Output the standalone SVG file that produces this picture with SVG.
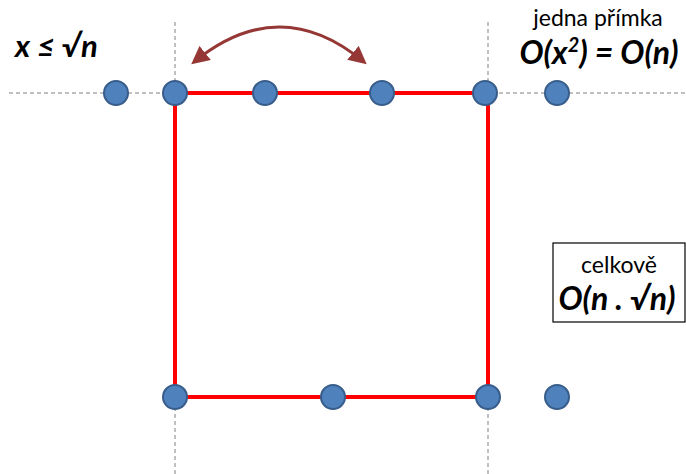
<svg xmlns="http://www.w3.org/2000/svg" width="686" height="474" viewBox="0 0 686 474">
<defs>
<style>
.guide{stroke:#808080;stroke-width:1;stroke-dasharray:4,3;fill:none}
.red{stroke:#ff0000;stroke-width:4;fill:none}
.dot{fill:#4f81bd;stroke:#385d8a;stroke-width:2}
.t{font-family:Lato,"Liberation Sans",sans-serif;fill:#000}
.bi{font-weight:bold;font-style:italic}
</style>
<marker id="ah" viewBox="0 0 10 10" refX="8" refY="5" markerWidth="6" markerHeight="6" orient="auto-start-reverse" markerUnits="strokeWidth">
<path d="M0,0 L10,5 L0,10 z" fill="#953735"/>
</marker>
</defs>
<rect width="686" height="474" fill="#fff"/>
<g id="guides">
<line class="guide" x1="9" y1="93" x2="686" y2="93"/>
<line class="guide" x1="175" y1="22" x2="175" y2="474"/>
<line class="guide" x1="488" y1="22" x2="488" y2="474"/>
</g>
<g id="connectors">
<polyline class="red" points="175,93 485,93 488,93 488,397 175,397 175,93"/>
<path d="M194,62 Q280,-8 364,62" stroke="#953735" stroke-width="3" fill="none" marker-start="url(#ah)" marker-end="url(#ah)"/>
</g>
<g id="dots">
<circle class="dot" cx="116" cy="93" r="12"/>
<circle class="dot" cx="175" cy="93" r="12"/>
<circle class="dot" cx="265" cy="93" r="12"/>
<circle class="dot" cx="382" cy="93" r="12"/>
<circle class="dot" cx="485" cy="93" r="12"/>
<circle class="dot" cx="557" cy="93" r="12"/>
<circle class="dot" cx="175" cy="397" r="12"/>
<circle class="dot" cx="333" cy="397" r="12"/>
<circle class="dot" cx="488" cy="397" r="12"/>
<circle class="dot" cx="557" cy="397" r="12"/>
</g>
<g id="label-x">
<text class="t bi" x="15" y="57" font-size="31">x ≤ √n</text>
</g>
<g id="label-line">
<text class="t" x="598" y="26" font-size="23" text-anchor="middle">jedna přímka</text>
<text class="t bi" x="599" y="64" font-size="32" text-anchor="middle">O(x<tspan font-size="20" dy="-12">2</tspan><tspan dy="12">) = O(n)</tspan></text>
</g>
<g id="total">
<rect x="553" y="243" width="132" height="79" fill="#fff" stroke="#000" stroke-width="1.2"/>
<text class="t" x="619" y="273" font-size="23" text-anchor="middle">celkově</text>
<text class="t bi" x="617" y="310" font-size="32" text-anchor="middle">O(n . √n)</text>
</g>
</svg>
